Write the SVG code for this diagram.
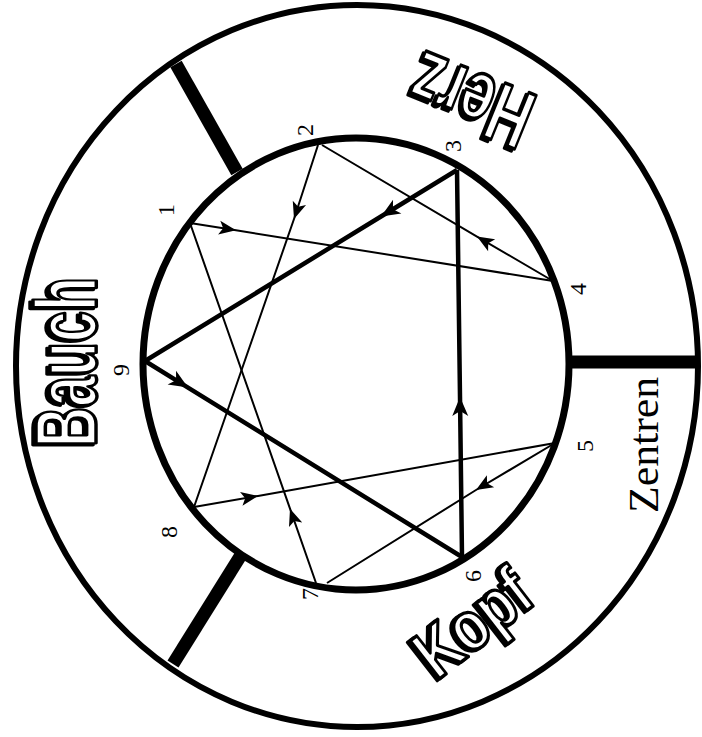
<svg xmlns="http://www.w3.org/2000/svg" width="702" height="737" viewBox="0 0 702 737">
<style>
.ring{fill:none;stroke:#000}
.bar{stroke:#000;stroke-width:13;stroke-linecap:butt}
.thick{fill:none;stroke:#000;stroke-width:4.5;stroke-linejoin:round}
.thin{fill:none;stroke:#000;stroke-width:2}
.num{font-family:"Liberation Serif",serif;font-size:24px;fill:#000;text-anchor:middle;dominant-baseline:central}
.big{font-family:"Liberation Sans",Arial,sans-serif;font-weight:bold;fill:#fff;stroke:#000;stroke-width:3.5;stroke-linejoin:round}
.zen{font-family:"Liberation Serif",serif;fill:#000}
</style>
<defs>
<marker id="ah" markerUnits="userSpaceOnUse" viewBox="-19 -9 21 18" markerWidth="21" markerHeight="18" refX="0" refY="0" orient="auto">
<path d="M0,0 L-17,-7 L-13,0 L-17,7 Z" fill="#000"/>
</marker>
<marker id="ahb" markerUnits="userSpaceOnUse" viewBox="-21 -10 23 20" markerWidth="23" markerHeight="20" refX="0" refY="0" orient="auto">
<path d="M0,0 L-19,-8 L-14,0 L-19,8 Z" fill="#000"/>
</marker>
<filter id="sh" x="-10%" y="-10%" width="120%" height="120%">
<feDropShadow dx="-3" dy="2" stdDeviation="0" flood-color="#000" flood-opacity="1"/>
</filter>
</defs>
<rect width="702" height="737" fill="#fff"/>

<g id="rings">
<ellipse class="ring" cx="357" cy="366" rx="341" ry="361" stroke-width="6"/>
<ellipse class="ring" cx="356" cy="364" rx="213" ry="226" stroke-width="7"/>
</g>

<g id="dividers">
<line class="bar" x1="237" y1="172" x2="176" y2="64"/>
<line class="bar" x1="568" y1="362" x2="699" y2="362"/>
<line class="bar" x1="241" y1="555" x2="173" y2="664"/>
</g>

<g id="connectors">
<path class="thick" marker-mid="url(#ahb)" d="M457,170 L381,216.5 L145,361"/>
<path class="thick" marker-mid="url(#ahb)" d="M145,361 L188,387.6 L462,557"/>
<path class="thick" marker-mid="url(#ahb)" d="M462,557 L460,397 L457,170"/>
<path class="thin" marker-mid="url(#ah)" d="M190,223 L236,230.3 L553,281"/>
<path class="thin" marker-mid="url(#ah)" d="M553,281 L477,236.6 L322,145"/>
<path class="thin" marker-mid="url(#ah)" d="M318,145 L294,219 L194,507"/>
<path class="thin" marker-mid="url(#ah)" d="M194,507 L258,495.9 L555,443"/>
<path class="thin" marker-mid="url(#ah)" d="M555,443 L476,490 L327,583"/>
<path class="thin" marker-mid="url(#ah)" d="M316,583 L290,508.7 L190,223"/>
</g>

<g id="numbers">
<g id="n1"><text class="num" transform="translate(166,210) rotate(-90)">1</text></g>
<g id="n2"><text class="num" transform="translate(305,130) rotate(-90)">2</text></g>
<g id="n3"><text class="num" transform="translate(453,146) rotate(-90)">3</text></g>
<g id="n4"><text class="num" transform="translate(578,289) rotate(-90)">4</text></g>
<g id="n5"><text class="num" transform="translate(585,446) rotate(-90)">5</text></g>
<g id="n6"><text class="num" transform="translate(473,576) rotate(-90)">6</text></g>
<g id="n7"><text class="num" transform="translate(310,594) rotate(-90)">7</text></g>
<g id="n8"><text class="num" transform="translate(169,532) rotate(-90)">8</text></g>
<g id="n9"><text class="num" transform="translate(121,370) rotate(-90)">9</text></g>
</g>

<g id="bauch" filter="url(#sh)">
<text class="big" transform="translate(96,447) rotate(-90)" font-size="88" textLength="170" lengthAdjust="spacingAndGlyphs">Bauch</text>
</g>
<g id="herz" filter="url(#sh)">
<text class="big" transform="translate(540,97) rotate(202)" font-size="84" textLength="125" lengthAdjust="spacingAndGlyphs">Herz</text>
</g>
<g id="kopf" filter="url(#sh)">
<text class="big" transform="translate(437,681) rotate(-38)" font-size="70" textLength="128" lengthAdjust="spacingAndGlyphs">Kopf</text>
</g>
<g id="zentren">
<text class="zen" transform="translate(658,513) rotate(-90)" font-size="43" textLength="136" lengthAdjust="spacingAndGlyphs">Zentren</text>
</g>
</svg>
